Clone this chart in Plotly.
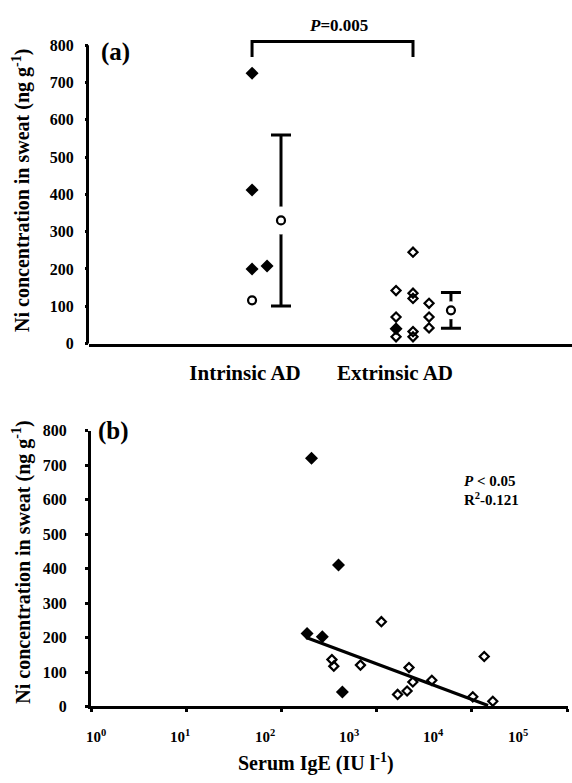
import plotly.graph_objects as go

# ---------------- data ----------------
# Panel (a): Ni concentration in sweat (ng/g) by AD type
categories = ["Intrinsic AD", "Extrinsic AD"]
intrinsic_filled = [725, 412, 200, 208]
intrinsic_filled_col = [0, 0, 0, 1]
intrinsic_open = [116]
intrinsic_open_col = [0]
intrinsic_mean = 330
intrinsic_sd = 229

extrinsic_filled = [40]
extrinsic_filled_col = [0]
extrinsic_open = [142, 71, 18, 245, 135, 121, 32, 18, 108, 71, 42]
extrinsic_open_col = [0, 0, 0, 1, 1, 1, 1, 1, 2, 2, 2]
extrinsic_mean = 89
extrinsic_sd = 48

p_value_text = "<i>P</i>=0.005"

# Panel (b): Ni concentration vs serum IgE (IU/l)
ige_filled = [207, 398, 186, 269, 437]
ni_filled = [720, 410, 212, 202, 42]
ige_open = [339, 355, 676, 1122, 2188, 2400, 1660, 2089, 3800, 13490, 16600, 10230]
ni_open = [136, 117, 120, 246, 113, 71, 35, 45, 76, 145, 15, 28]
fit_ige = [182, 14800]
fit_ni = [200, 3]
y_ticks = [0, 100, 200, 300, 400, 500, 600, 700, 800]
x_tick_labels = ["10<sup>0</sup>", "10<sup>1</sup>", "10<sup>2</sup>",
                 "10<sup>3</sup>", "10<sup>4</sup>", "10<sup>5</sup>"]
stats_text = ["<i>P</i> < 0.05", "R<sup>2</sup>-0.121"]

# ---------------- layout helpers ----------------
W, H = 572, 783
FONT = "Liberation Serif"
cat_pos = [1, 2]
intr_cols = [0.047, 0.147]
intr_mean_off = 0.24
extr_cols = [0.007, 0.12, 0.227]
extr_mean_off = 0.373


def px(x):
    return x / W


def py(y):
    return (H - y) / H


def bfont(size):
    return dict(family=FONT, size=size, color="black", weight="bold")


open_marker = dict(symbol="diamond-open", size=7, color="black", line=dict(width=2.2))
ring_marker = dict(symbol="circle-open", size=8, color="black", line=dict(width=2.2))
filled_marker = dict(symbol="diamond", size=10, color="black")

fig = go.Figure()

# ---- panel (a) ----
ix = [cat_pos[0] + intr_cols[c] for c in intrinsic_filled_col]
fig.add_trace(go.Scatter(x=ix, y=intrinsic_filled, mode="markers", marker=filled_marker,
                         xaxis="x", yaxis="y", showlegend=False))
ix = [cat_pos[0] + intr_cols[c] for c in intrinsic_open_col]
fig.add_trace(go.Scatter(x=ix, y=intrinsic_open, mode="markers", marker=ring_marker,
                         xaxis="x", yaxis="y", showlegend=False))
ex = [cat_pos[1] + extr_cols[c] for c in extrinsic_open_col]
fig.add_trace(go.Scatter(x=ex, y=extrinsic_open, mode="markers", marker=open_marker,
                         xaxis="x", yaxis="y", showlegend=False))
ex = [cat_pos[1] + extr_cols[c] for c in extrinsic_filled_col]
fig.add_trace(go.Scatter(x=ex, y=extrinsic_filled, mode="markers", marker=filled_marker,
                         xaxis="x", yaxis="y", showlegend=False))

# means with SD bars (white halo hides the bar around the mean marker)
for cpos, off, m, sd, halo in [(cat_pos[0], intr_mean_off, intrinsic_mean, intrinsic_sd, 28),
                               (cat_pos[1], extr_mean_off, extrinsic_mean, extrinsic_sd, 18)]:
    fig.add_trace(go.Scatter(x=[cpos + off], y=[m], mode="markers",
                             marker=dict(symbol="circle", size=halo, color="white"),
                             error_y=dict(type="constant", value=sd, color="black",
                                          thickness=3, width=10),
                             xaxis="x", yaxis="y", showlegend=False))
    fig.add_trace(go.Scatter(x=[cpos + off], y=[m], mode="markers", marker=ring_marker,
                             xaxis="x", yaxis="y", showlegend=False))

# ---- panel (b) ----
fig.add_trace(go.Scatter(x=ige_open, y=ni_open, mode="markers", marker=open_marker,
                         xaxis="x2", yaxis="y2", showlegend=False))
fig.add_trace(go.Scatter(x=fit_ige, y=fit_ni, mode="lines",
                         line=dict(color="black", width=3.2),
                         xaxis="x2", yaxis="y2", showlegend=False))
fig.add_trace(go.Scatter(x=ige_filled, y=ni_filled, mode="markers", marker=filled_marker,
                         xaxis="x2", yaxis="y2", showlegend=False))

# ---- axes ----
kx = 150.0  # px per category unit
ax_left_a, ax_right = 89, 572
xa0 = cat_pos[0] - (245 - ax_left_a) / kx
xa1 = cat_pos[0] + (ax_right - 245) / kx
ya_top_px, ya_bot_px = 10, 343
ya_scale = (343 - 38) / 800.0
ya_max = (ya_bot_px - ya_top_px) / ya_scale

tickfont = bfont(16)

fig.update_layout(
    width=W, height=H, autosize=False,
    margin=dict(l=0, r=0, t=0, b=0),
    paper_bgcolor="white", plot_bgcolor="white",
    showlegend=False,
    xaxis=dict(domain=[px(ax_left_a), 1.0], range=[xa0, xa1],
               tickvals=cat_pos, ticktext=categories,
               tickfont=bfont(21),
               ticks="", ticklabelstandoff=8,
               showline=True, linecolor="black", linewidth=3,
               showgrid=False, zeroline=False, anchor="y"),
    yaxis=dict(domain=[py(ya_bot_px), py(ya_top_px)], range=[0, ya_max],
               tickvals=y_ticks, ticktext=[str(v) for v in y_ticks],
               tickfont=tickfont, ticks="outside", ticklen=3, tickwidth=3,
               tickcolor="black", ticklabelstandoff=8,
               showline=False, showgrid=False, zeroline=False, anchor="x"),
    xaxis2=dict(type="log", domain=[px(91), px(568)], range=[0, 5.01],
                tickvals=[1, 10, 100, 1000, 10000, 100000],
                showticklabels=False, ticks="outside", ticklen=3, tickwidth=3,
                tickcolor="black",
                showline=True, linecolor="black", linewidth=3,
                showgrid=False, zeroline=False, anchor="y2"),
    yaxis2=dict(domain=[py(714), py(432)], range=[0, 800],
                tickvals=y_ticks, ticktext=[str(v) for v in y_ticks],
                tickfont=tickfont, ticks="outside", ticklen=3, tickwidth=3,
                tickcolor="black", ticklabelstandoff=15,
                showline=True, linecolor="black", linewidth=3,
                showgrid=False, zeroline=False, anchor="x2"),
)

# y-axis line of panel (a) from 0 to 800 only
fig.add_shape(type="line", xref="paper", yref="y",
              x0=px(ax_left_a) - 1.5 / W, x1=px(ax_left_a) - 1.5 / W, y0=-8, y1=800,
              line=dict(color="black", width=3))

# significance bracket
bx0 = cat_pos[0] + intr_cols[0]
bx1 = cat_pos[1] + extr_cols[1]
fig.add_shape(type="path", xref="x", yref="y",
              path=f"M {bx0},768 L {bx0},810 L {bx1},810 L {bx1},768",
              line=dict(color="black", width=3))

ann = []
ann.append(dict(x=(bx0 + bx1) / 2 + 0.04, y=853, xref="x", yref="y", text=p_value_text,
                showarrow=False, font=bfont(17),
                xanchor="center", yanchor="middle"))
ann.append(dict(x=px(99), y=py(45), xref="paper", yref="paper", text="(a)",
                showarrow=False, font=bfont(25),
                xanchor="left", yanchor="middle"))
ann.append(dict(x=px(96), y=py(432), xref="paper", yref="paper", text="(b)",
                showarrow=False, font=bfont(25),
                xanchor="left", yanchor="middle"))
ytitle = "Ni concentration in sweat (ng g<sup>-1</sup>)"
for yc in (187, 567):
    ann.append(dict(x=px(22), y=py(yc), xref="paper", yref="paper", text=ytitle,
                    textangle=-90, showarrow=False, font=bfont(20),
                    xanchor="center", yanchor="middle"))
# x tick labels of panel (b) (placed as in the original, not exactly under ticks)
for k, lab in enumerate(x_tick_labels):
    ann.append(dict(x=0.05 + 0.887 * k, y=py(744), xref="x2", yref="paper",
                    text=lab, showarrow=False, font=bfont(15),
                    xanchor="center", yanchor="middle"))
ann.append(dict(x=px(316), y=py(771), xref="paper", yref="paper",
                text="Serum IgE (IU l<sup>-1</sup>)", showarrow=False,
                font=bfont(20), xanchor="center", yanchor="middle"))
for i, t in enumerate(stats_text):
    ann.append(dict(x=px(462), y=py(484 + 18 * i), xref="paper", yref="paper",
                    text=t, showarrow=False, font=bfont(15),
                    xanchor="left", yanchor="middle"))
fig.update_layout(annotations=ann)

fig.write_html("out.html", config={"displayModeBar": False},
               post_script="document.body.style.margin='0';document.body.style.overflow='hidden';")
